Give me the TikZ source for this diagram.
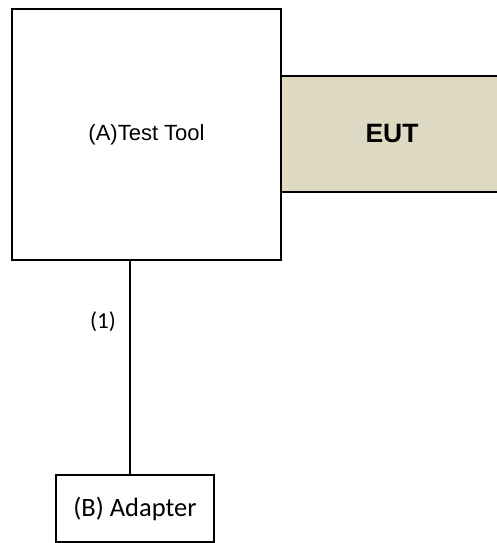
\documentclass[tikz,border=0pt]{standalone}
\usepackage{fontspec}
\setmainfont{Liberation Sans}
\newfontfamily\calib{Carlito}
\definecolor{eutfill}{HTML}{DDD9C3}
\begin{document}
\begin{tikzpicture}[x=1pt,y=-1pt,
  box/.style={draw=black,line width=1.4pt,inner sep=0pt,outer sep=0pt},
  conn/.style={draw=black,line width=1.4pt}]
\useasboundingbox (0,0) rectangle (497,543);
\node[box,fill=eutfill,minimum width=222pt,minimum height=116pt,font=\fontsize{26.5}{30}\selectfont\bfseries] (eut) at (392,134) {EUT};
\node[box,fill=white,minimum width=269pt,minimum height=251pt,font=\fontsize{22}{26}\selectfont] (tool) at (146.5,134.5) {(A)Test Tool};
\node[box,fill=white,minimum width=158pt,minimum height=67pt,font=\calib\fontsize{26.5}{31}\selectfont] (adapter) at (135,508.5) {(B) Adapter};
\coordinate (top) at (130,260);
\draw[conn] (tool.south -| top) -- (adapter.north -| top);
\node[font=\calib\fontsize{23}{28}\selectfont] (lbl) at (103,322) {(1)};
\end{tikzpicture}
\end{document}
